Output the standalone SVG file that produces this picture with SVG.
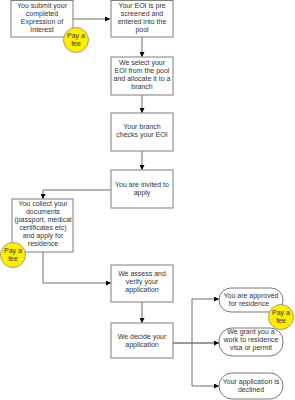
<svg xmlns="http://www.w3.org/2000/svg" width="295" height="400" viewBox="0 0 295 400">
<defs>
<marker id="ah" viewBox="0 0 6 6" refX="6" refY="3" markerWidth="5" markerHeight="5" orient="auto" markerUnits="userSpaceOnUse"><path d="M0,0 L6,3 L0,6 z" fill="#000"/></marker>
</defs>
<style>
.box{fill:#fff;stroke:#7f7f7f;stroke-width:1}
.oval{fill:#fff;stroke:#555;stroke-width:0.8}
.fee{fill:#ffee00;stroke:#888;stroke-width:0.8}
text{font-family:"Liberation Sans",Arial,sans-serif;font-size:7px;fill:#333;text-anchor:middle}
.ln{fill:none;stroke:#6f6f6f;stroke-width:1}
.lk{fill:none;stroke:#333;stroke-width:1}
</style>
<rect width="295" height="400" fill="#fff"/>
<g id="connectors">
<path class="ln" d="M73,19 H110" marker-end="url(#ah)"/>
<path class="ln" d="M142,37 V57" marker-end="url(#ah)"/>
<path class="ln" d="M142,95 V113" marker-end="url(#ah)"/>
<path class="ln" d="M142,151 V170" marker-end="url(#ah)"/>
<path class="ln" d="M111,190 H43 V199" marker-end="url(#ah)"/>
<path class="ln" d="M43,252 V283 H111" marker-end="url(#ah)"/>
<path class="ln" d="M142,302 V323" marker-end="url(#ah)"/>
<path class="lk" d="M173,343 H219"  marker-end="url(#ah)"/>
<path class="ln" d="M192,299 V386"/>
<path class="ln" d="M192,299 H219" marker-end="url(#ah)"/>
<path class="ln" d="M192,386 H219" marker-end="url(#ah)"/>
</g>
<g id="n1"><rect class="box" x="11" y="0.5" width="62" height="36.5"/>
<text x="42" y="8">You submit your</text><text x="42" y="16">completed</text><text x="42" y="24">Expression of</text><text x="42" y="32">Interest</text></g>
<g id="fee1"><circle class="fee" cx="76" cy="40" r="12.5"/><text x="76" y="38">Pay a</text><text x="76" y="46">fee</text></g>
<g id="n2"><rect class="box" x="111" y="0.5" width="62" height="36.5"/>
<text x="142" y="8">Your EOI is pre</text><text x="142" y="16">screened and</text><text x="142" y="24">entered into the</text><text x="142" y="32">pool</text></g>
<g id="n3"><rect class="box" x="111" y="57" width="62" height="38"/>
<text x="142" y="65">We select your</text><text x="142" y="73">EOI from the pool</text><text x="142" y="81">and allocate it to a</text><text x="142" y="89">branch</text></g>
<g id="n4"><rect class="box" x="111" y="113" width="62" height="38"/>
<text x="142" y="129">Your branch</text><text x="142" y="137">checks your EOI</text></g>
<g id="n5"><rect class="box" x="111" y="170" width="62" height="38"/>
<text x="142" y="187">You are invited to</text><text x="142" y="195">apply</text></g>
<g id="n6"><rect class="box" x="12" y="199" width="61" height="53"/>
<text x="43" y="206">You collect your</text><text x="43" y="214">documents</text><text x="43" y="222">(passport, medical</text><text x="43" y="230">certificates etc)</text><text x="43" y="238">and apply for</text><text x="43" y="246">residence</text></g>
<g id="fee2"><circle class="fee" cx="13" cy="255" r="12.5"/><text x="13" y="253">Pay a</text><text x="13" y="261">fee</text></g>
<g id="n7"><rect class="box" x="111" y="265" width="62" height="37"/>
<text x="142" y="276">We assess and</text><text x="142" y="284">verify your</text><text x="142" y="292">application</text></g>
<g id="n8"><rect class="box" x="111" y="323" width="62" height="35"/>
<text x="142" y="339">We decide your</text><text x="142" y="347">application</text></g>
<g id="o1"><rect class="oval" x="219" y="288" width="64" height="24" rx="12"/>
<text x="251" y="298">You are approved</text><text x="249" y="306">for residence</text></g>
<g id="fee3"><circle class="fee" cx="281" cy="317" r="12.5"/><text x="281" y="315">Pay a</text><text x="281" y="323">fee</text></g>
<g id="o2"><rect class="oval" x="219" y="328" width="64" height="28" rx="13"/>
<text x="251" y="334">We grant you a</text><text x="251" y="342">work to residence</text><text x="251" y="350">visa or permit</text></g>
<g id="o3"><rect class="oval" x="219" y="373" width="64" height="26" rx="13"/>
<text x="251" y="384">Your application is</text><text x="251" y="392">declined</text></g>
</svg>
